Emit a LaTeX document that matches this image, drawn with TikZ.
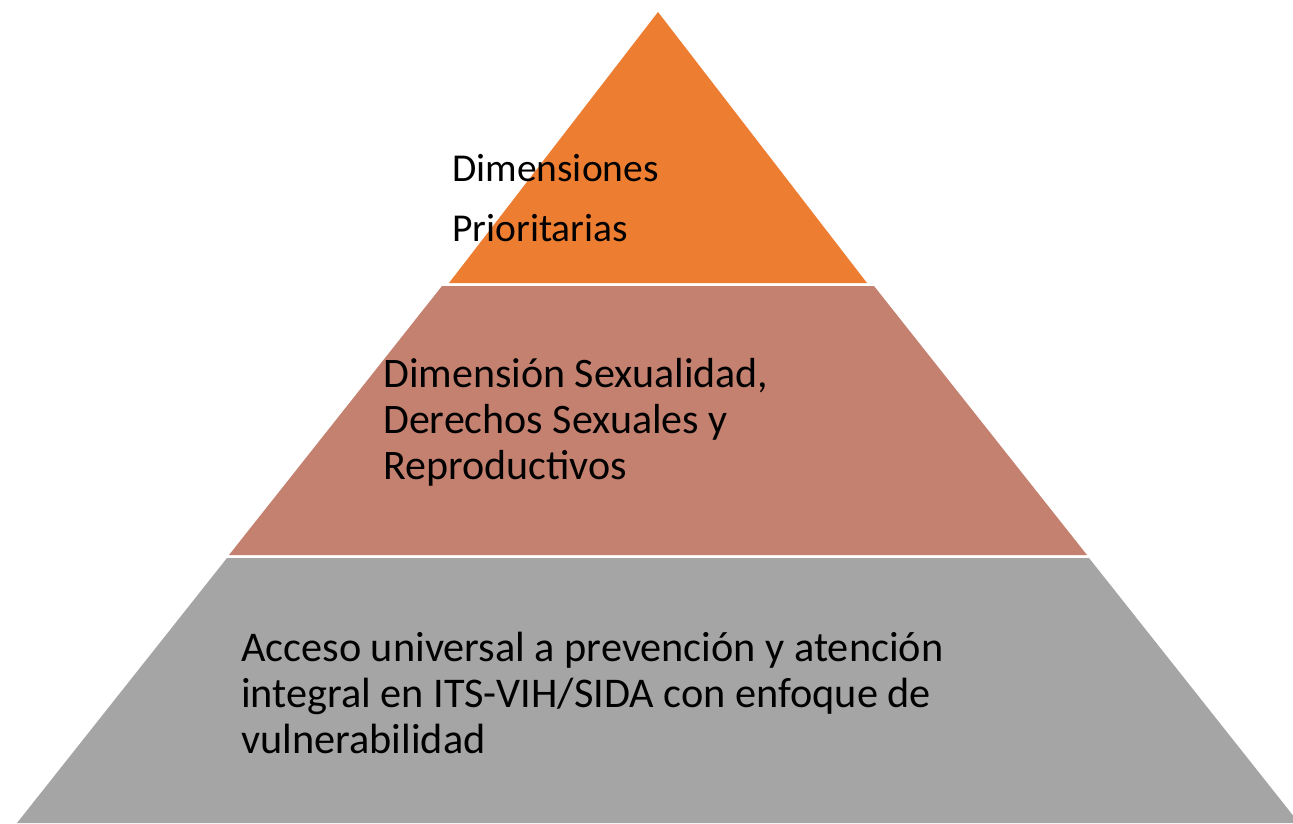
\documentclass[tikz,border=0pt]{standalone}
\usepackage{fontspec}
\setmainfont{Carlito}
\definecolor{layerA}{HTML}{ED7D31}
\definecolor{layerB}{HTML}{C48170}
\definecolor{layerC}{HTML}{A5A5A5}
\tikzset{
  label1/.style={anchor=base west, inner sep=0pt, font=\fontsize{39.5}{60}\selectfont},
  label2/.style={anchor=base west, inner sep=0pt, font=\fontsize{42}{46}\selectfont},
  label3/.style={anchor=base west, inner sep=0pt, font=\fontsize{42.3}{46}\selectfont},
}
\begin{document}
\begin{tikzpicture}[x=1pt,y=-1pt]
\useasboundingbox (0,0) rectangle (1293,823);
\fill[white] (0,0) rectangle (1293,823);
\fill[layerA] (658,12) -- (867,283) -- (449,283) -- cycle;
\fill[layerB] (442,286) -- (874,286) -- (1087,555) -- (229,555) -- cycle;
\fill[layerC] (227,558) -- (1089,558) -- (1299,823) -- (17,823) -- cycle;
\node[label1] (top) at (452,181.7) {\vtop{\hbox{Dimensiones}\hbox{Prioritarias}}};
\node[label2] (mid) at (383,387.7) {\vtop{\hbox{Dimensión Sexualidad,}\hbox{Derechos Sexuales y}\hbox{Reproductivos}}};
\node[label3] (bot) at (241,661) {\vtop{\hbox{Acceso universal a prevención y atención}\hbox{integral en ITS-VIH/SIDA con enfoque de}\hbox{vulnerabilidad}}};
\end{tikzpicture}
\end{document}
